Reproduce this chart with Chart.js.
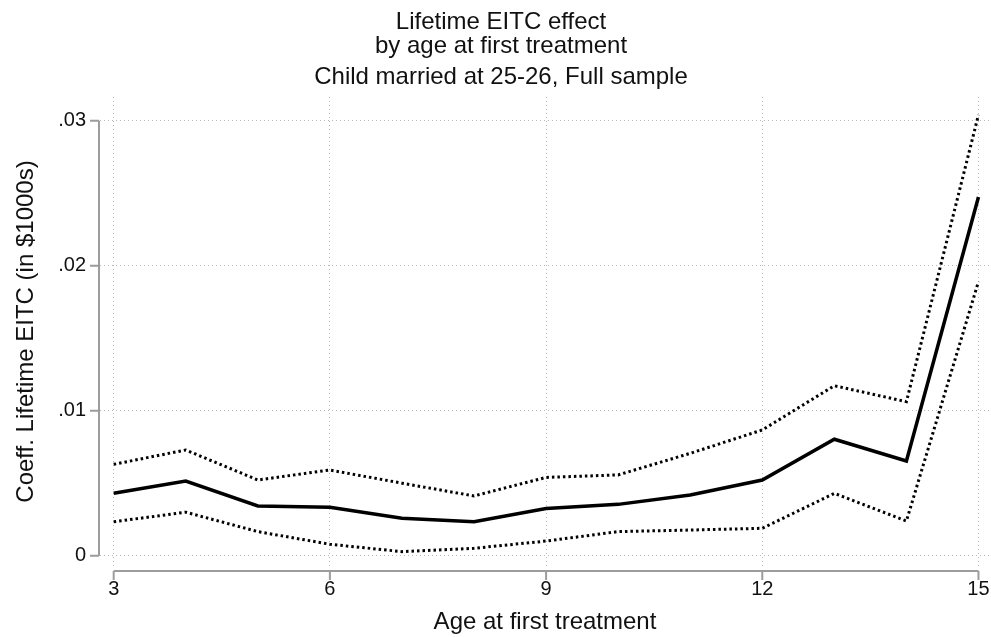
<!DOCTYPE html>
<html>
<head>
<meta charset="utf-8">
<script src="https://cdn.jsdelivr.net/npm/chart.js@4.4.1/dist/chart.umd.min.js"></script>
<style>
  html, body { margin: 0; padding: 0; background: #fff; }
  #wrap { width: 991px; height: 637px; }
</style>
</head>
<body>
<div id="wrap"><canvas id="eitcChart"></canvas></div>
<script>
// Values
const ages = [3, 4, 5, 6, 7, 8, 9, 10, 11, 12, 13, 14, 15];
const coef = [0.0043, 0.00515, 0.00343, 0.00334, 0.00258, 0.00234, 0.00325, 0.00354, 0.00419, 0.00522, 0.00803, 0.00653, 0.02474];
const upperCI = [0.0063, 0.00729, 0.00522, 0.00591, 0.0050, 0.00412, 0.0054, 0.00557, 0.00706, 0.00867, 0.01172, 0.01062, 0.0304];
const lowerCI = [0.00234, 0.0030, 0.00166, 0.00079, 0.00028, 0.00051, 0.00101, 0.00166, 0.00177, 0.00189, 0.0043, 0.00239, 0.0189];
const xTicks = [3, 6, 9, 12, 15];
const yTicks = [0, 0.01, 0.02, 0.03];

const toPoints = (ys) => ages.map((a, i) => ({ x: a, y: ys[i] }));

Chart.defaults.font.family = '"Liberation Sans", Arial, sans-serif';
Chart.defaults.color = '#111';

// Stata style axis lines: offset from the plot region, only over the tick range
const stataAxes = {
    id: 'stataAxes',
    afterDraw(chart) {
        const ctx = chart.ctx;
        const x = chart.scales.x, y = chart.scales.y;
        const ax = chart.chartArea.left - 1;
        const ay = chart.chartArea.bottom + 5;
        ctx.save();
        ctx.strokeStyle = '#9c9c9c';
        ctx.lineWidth = 2;
        ctx.beginPath();
        ctx.moveTo(ax, y.getPixelForValue(yTicks[0]));
        ctx.lineTo(ax, y.getPixelForValue(yTicks[yTicks.length - 1]));
        yTicks.forEach(v => {
            const py = y.getPixelForValue(v);
            ctx.moveTo(ax, py);
            ctx.lineTo(ax - 9, py);
        });
        ctx.moveTo(x.getPixelForValue(xTicks[0]), ay);
        ctx.lineTo(x.getPixelForValue(xTicks[xTicks.length - 1]), ay);
        xTicks.forEach(v => {
            const px = x.getPixelForValue(v);
            ctx.moveTo(px, ay);
            ctx.lineTo(px, ay + 9);
        });
        ctx.stroke();
        ctx.restore();
    }
};

const ctx = document.getElementById('eitcChart').getContext('2d');
new Chart(ctx, {
    type: 'line',
    data: {
        datasets: [
            {
                label: 'Upper',
                data: toPoints(upperCI),
                borderColor: '#000',
                borderWidth: 3,
                borderDash: [2.5, 3],
                pointRadius: 0,
                tension: 0
            },
            {
                label: 'Coefficient',
                data: toPoints(coef),
                borderColor: '#000',
                borderWidth: 3.5,
                pointRadius: 0,
                tension: 0
            },
            {
                label: 'Lower',
                data: toPoints(lowerCI),
                borderColor: '#000',
                borderWidth: 3,
                borderDash: [2.5, 3],
                pointRadius: 0,
                tension: 0
            }
        ]
    },
    options: {
        responsive: true,
        maintainAspectRatio: false,
        animation: false,
        layout: { padding: { left: 12, right: 1, top: 10, bottom: 0 } },
        plugins: {
            legend: { display: false },
            tooltip: { enabled: false },
            title: {
                display: true,
                text: ['Lifetime EITC effect', 'by age at first treatment'],
                font: { size: 24, weight: 'normal', lineHeight: 1.0 },
                color: '#111',
                padding: { top: 0, bottom: 4 }
            },
            subtitle: {
                display: true,
                text: 'Child married at 25-26, Full sample',
                font: { size: 24, weight: 'normal', lineHeight: 1.0 },
                color: '#111',
                padding: { top: 3, bottom: 8 }
            }
        },
        scales: {
            x: {
                type: 'linear',
                min: 2.81,
                max: 15.16,
                afterBuildTicks: (s) => { s.ticks = xTicks.map(v => ({ value: v })); },
                afterFit: (s) => { s.height = 71; s.paddingLeft = 0; s.paddingRight = 0; },
                ticks: { font: { size: 20 }, padding: 11, maxRotation: 0 },
                grid: { color: '#b8b8b8', lineWidth: 1, drawTicks: false },
                border: { display: false, dash: [1, 3] },
                title: {
                    display: true,
                    text: 'Age at first treatment',
                    font: { size: 24 },
                    padding: { top: 0, bottom: 0 }
                }
            },
            y: {
                min: -0.00071,
                max: 0.03163,
                afterBuildTicks: (s) => { s.ticks = yTicks.map(v => ({ value: v })); },
                afterFit: (s) => { s.width = 88; s.paddingTop = 0; s.paddingBottom = 0; },
                ticks: {
                    font: { size: 20 },
                    padding: 14,
                    callback: (v) => v === 0 ? '0' : v.toFixed(2).replace(/^0/, '')
                },
                grid: { color: '#b8b8b8', lineWidth: 1, drawTicks: false },
                border: { display: false, dash: [1, 3] },
                title: {
                    display: true,
                    text: 'Coeff. Lifetime EITC (in $1000s)',
                    font: { size: 24 },
                    padding: { top: 0, bottom: 0 }
                }
            }
        }
    },
    plugins: [stataAxes]
});
</script>
</body>
</html>
